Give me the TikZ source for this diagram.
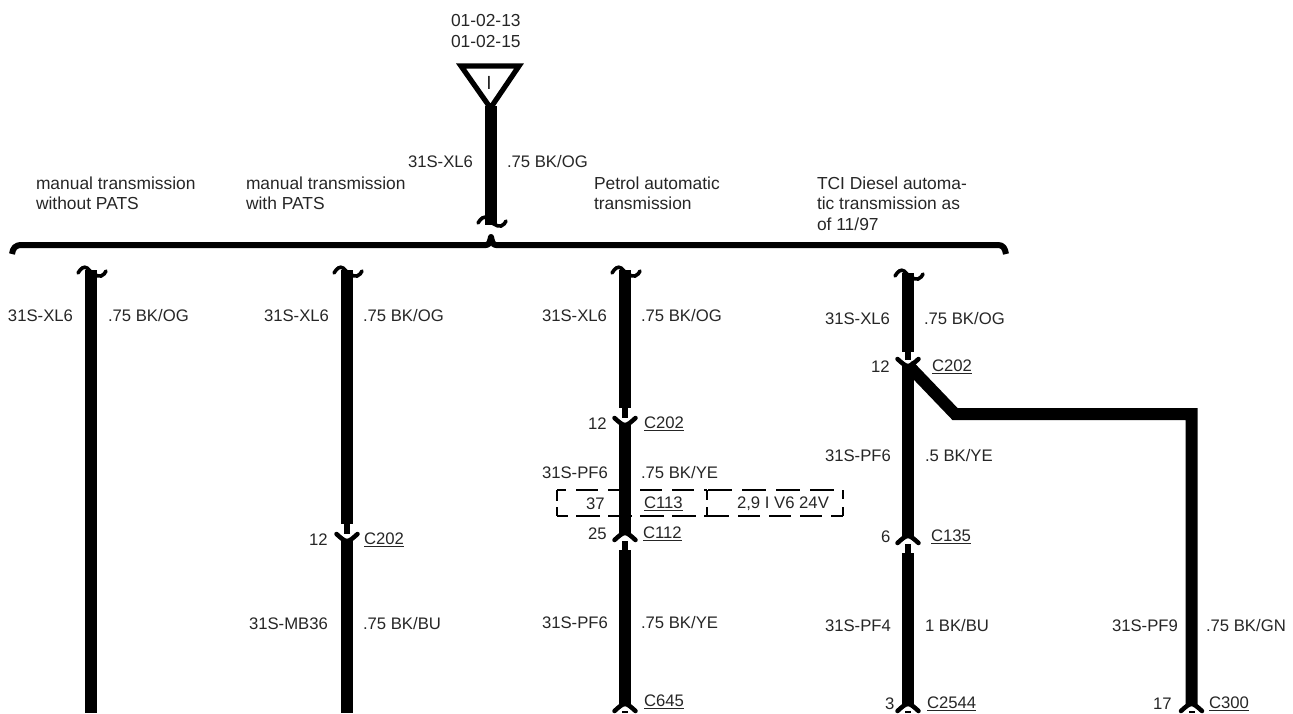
\documentclass[tikz,border=0pt]{standalone}
\usepackage{fontspec}
\setmainfont{Liberation Sans}
\newcommand{\ulbl}[1]{\underline{#1}}
\tikzset{
  wire/.style={line width=12pt,line cap=butt,black},
  pinline/.style={line width=6pt,line cap=butt,black},
  hookline/.style={line width=3.6pt,line cap=round,black},
  armline/.style={line width=4.5pt,line cap=round,black},
  bus/.style={line width=6pt,line cap=butt,line join=round,black},
  lbl/.style={anchor=west,inner sep=0pt,outer sep=0pt,yshift=-0.8pt,font=\fontsize{16.7}{20}\selectfont,text=black!85},
  note/.style={lbl,yshift=0.4pt,font=\fontsize{17.4}{20}\selectfont},
  boxdash/.style={draw=black,line width=2pt,line cap=butt},
  breakmark/.pic={\draw[hookline] (-13,6) .. controls (-10,1) and (-7,-1) .. (-4,1) .. controls (0,5) and (5,10) .. (10,9) .. controls (13,8) and (14,6) .. (15,4);},
  cupdown/.pic={\draw[armline] (-10.5,-7) .. controls (-6,-3) and (-3,0) .. (0,0) .. controls (3,0) and (6,-3) .. (10.5,-7);},
  cupup/.pic={\draw[armline] (-10.5,7) .. controls (-6,3) and (-3,0) .. (0,0) .. controls (3,0) and (6,3) .. (10.5,7);}
}
\begin{document}
\begin{tikzpicture}[x=1pt,y=-1pt]
\useasboundingbox (0,0) rectangle (1293,713);

% dashed boxes
\coordinate (bTL) at (557,490);
\coordinate (bTM) at (707,490);
\coordinate (bTR) at (843,490);
\coordinate (bBL) at (557,516);
\coordinate (bBM) at (707,516);
\coordinate (bBR) at (843,516);
\draw[boxdash,dash pattern=on 22pt off 10pt,dash phase=13pt] (bTL) -- (bTM);
\draw[boxdash,dash pattern=on 24pt off 10pt,dash phase=-1pt] (bTM) -- (bTR);
\draw[boxdash,dash pattern=on 24pt off 8pt,dash phase=13pt] (bBL) -- (bBM);
\draw[boxdash,dash pattern=on 22pt off 9pt,dash phase=0pt] (bBM) -- (bBR);
\draw[boxdash,dash pattern=on 11pt off 6pt] (bTL) -- (bBL);
\draw[boxdash,dash pattern=on 10pt off 7pt] (bTM) -- (bBM);
\draw[boxdash,dash pattern=on 9pt off 8pt] (bTR) -- (bBR);

% splice triangle
\coordinate (triL) at (461,66);
\coordinate (triR) at (519,66);
\coordinate (triB) at (490.5,108);
\draw[line width=5.2pt,line join=miter,black] (triL) -- (triR) -- (triB) -- cycle;
\node[lbl,anchor=center,font=\fontsize{19}{20}\selectfont] (triI) at (489,82) {I};

% main feed
\coordinate (mainEnd) at (491,225);
\coordinate (mainTop) at (491,106);
\draw[wire] (mainTop) -- (mainEnd);
\coordinate (mainBrk) at (491,217);
\pic at (mainBrk) {breakmark};

% bus bracket
\coordinate (busL) at (12,254);
\coordinate (busLa) at (22,245);
\coordinate (busMa) at (486,245);
\coordinate (busM) at (491,237);
\coordinate (busMb) at (496,245);
\coordinate (busRa) at (998,245);
\coordinate (busR) at (1006,254);
\draw[bus] (busL) .. controls (13,248) and (15,245) .. (busLa) -- (busMa) .. controls (489,245) and (490,242) .. (busM) .. controls (492,242) and (493,245) .. (busMb) -- (busRa) .. controls (1003,245) and (1005,248) .. (busR);

% column 1
\coordinate (a0) at (91,270);
\coordinate (a1) at (91,713);
\draw[wire] (a0) -- (a1);
\pic at (91,267) {breakmark};

% column 2
\coordinate (b0) at (347,270);
\coordinate (b1) at (347,524);
\coordinate (b2) at (347,534);
\coordinate (b3) at (347,541);
\coordinate (b4) at (347,713);
\draw[wire] (b0) -- (b1);
\draw[pinline] (b1) -- (b2);
\draw[wire] (b3) -- (b4);
\pic at (347,267) {breakmark};
\pic at (b3) {cupdown};

% column 3
\coordinate (c0) at (625,270);
\coordinate (c1) at (625,408);
\coordinate (c2) at (625,418);
\coordinate (c3) at (625,425);
\coordinate (c4) at (625,533);
\coordinate (c5) at (625,541);
\coordinate (c6) at (625,550);
\coordinate (c7) at (625,704);
\coordinate (c8) at (625,711);
\coordinate (c9) at (625,713);
\draw[wire] (c0) -- (c1);
\draw[pinline] (c1) -- (c2);
\draw[wire] (c3) -- (c4);
\draw[pinline] (c5) -- (c6);
\draw[wire] (c6) -- (c7);
\draw[pinline] (c8) -- (c9);
\pic at (625,267) {breakmark};
\pic at (c3) {cupdown};
\pic at (c4) {cupup};
\pic at (c7) {cupup};

% column 4
\coordinate (d0) at (908,273);
\coordinate (d1) at (908,352);
\coordinate (d2) at (908,360);
\coordinate (d3) at (908,366);
\coordinate (d4) at (908,536);
\coordinate (d5) at (908,544);
\coordinate (d6) at (908,553);
\coordinate (d7) at (908,704);
\coordinate (d8) at (908,711);
\coordinate (d9) at (908,713);
\draw[wire] (d0) -- (d1);
\draw[pinline] (d1) -- (d2);
\draw[wire] (d3) -- (d4);
\draw[pinline] (d5) -- (d6);
\draw[wire] (d6) -- (d7);
\draw[pinline] (d8) -- (d9);
\pic at (908,270) {breakmark};
\pic at (d3) {cupdown};
\pic at (d4) {cupup};
\pic at (d7) {cupup};

% branch
\coordinate (e0) at (908,365);
\coordinate (e1) at (955,414);
\coordinate (e2) at (1191.5,414);
\coordinate (e3) at (1191.5,704);
\coordinate (e4) at (1191.5,711);
\coordinate (e5) at (1191.5,713);
\draw[wire,line join=miter] (e0) -- (e1) -- (e2) -- (e3);
\draw[pinline] (e4) -- (e5);
\pic at (e3) {cupup};

% texts
\node[note] (t1) at (451,20) {01-02-13};
\node[note] (t2) at (451,41) {01-02-15};
\node[lbl] (t3) at (408,161) {31S-XL6};
\node[lbl] (t4) at (507,161) {.75 BK/OG};
\node[note] (g1a) at (36,183) {manual transmission};
\node[note] (g1b) at (36,203) {without PATS};
\node[note] (g2a) at (246,183) {manual transmission};
\node[note] (g2b) at (246,203) {with PATS};
\node[note] (g3a) at (594,183) {Petrol automatic};
\node[note] (g3b) at (594,203) {transmission};
\node[note] (g4a) at (817,183) {TCI Diesel automa-};
\node[note] (g4b) at (817,203) {tic transmission as};
\node[note] (g4c) at (817,224) {of 11/97};

\node[lbl] (a_l) at (8,315) {31S-XL6};
\node[lbl] (a_r) at (108,315) {.75 BK/OG};

\node[lbl] (b_l) at (264,315) {31S-XL6};
\node[lbl] (b_r) at (363,315) {.75 BK/OG};
\node[lbl] (b_p) at (309,539) {12};
\node[lbl] (b_c) at (364,539) {\ulbl{C202}};
\node[lbl] (b_m) at (249,623) {31S-MB36};
\node[lbl] (b_n) at (363,623) {.75 BK/BU};

\node[lbl] (c_l) at (542,315) {31S-XL6};
\node[lbl] (c_r) at (641,315) {.75 BK/OG};
\node[lbl] (c_p) at (588,423) {12};
\node[lbl] (c_c) at (644,423) {\ulbl{C202}};
\node[lbl] (c_m) at (542,472) {31S-PF6};
\node[lbl] (c_n) at (641,472) {.75 BK/YE};
\node[lbl] (c_x) at (586,503) {37};
\node[lbl] (c_y) at (644,503) {\ulbl{C113}};
\node[lbl] (c_z) at (737,503) {2,9 I V6 24V};
\node[lbl] (c_q) at (588,533) {25};
\node[lbl] (c_w) at (643,533) {\ulbl{C112}};
\node[lbl] (c_s) at (542,622) {31S-PF6};
\node[lbl] (c_t) at (641,622) {.75 BK/YE};
\node[lbl] (c_u) at (644,701) {\ulbl{C645}};

\node[lbl] (d_l) at (825,318) {31S-XL6};
\node[lbl] (d_r) at (924,318) {.75 BK/OG};
\node[lbl] (d_p) at (871,366) {12};
\node[lbl] (d_c) at (932,366) {\ulbl{C202}};
\node[lbl] (d_m) at (825,455) {31S-PF6};
\node[lbl] (d_n) at (925,455) {.5 BK/YE};
\node[lbl] (d_x) at (881,536) {6};
\node[lbl] (d_y) at (931,536) {\ulbl{C135}};
\node[lbl] (d_s) at (825,625) {31S-PF4};
\node[lbl] (d_t) at (925,625) {1 BK/BU};
\node[lbl] (d_q) at (885,703) {3};
\node[lbl] (d_w) at (927,703) {\ulbl{C2544}};

\node[lbl] (e_l) at (1112,625) {31S-PF9};
\node[lbl] (e_r) at (1206,625) {.75 BK/GN};
\node[lbl] (e_p) at (1153,703) {17};
\node[lbl] (e_c) at (1209,703) {\ulbl{C300}};
\end{tikzpicture}
\end{document}
